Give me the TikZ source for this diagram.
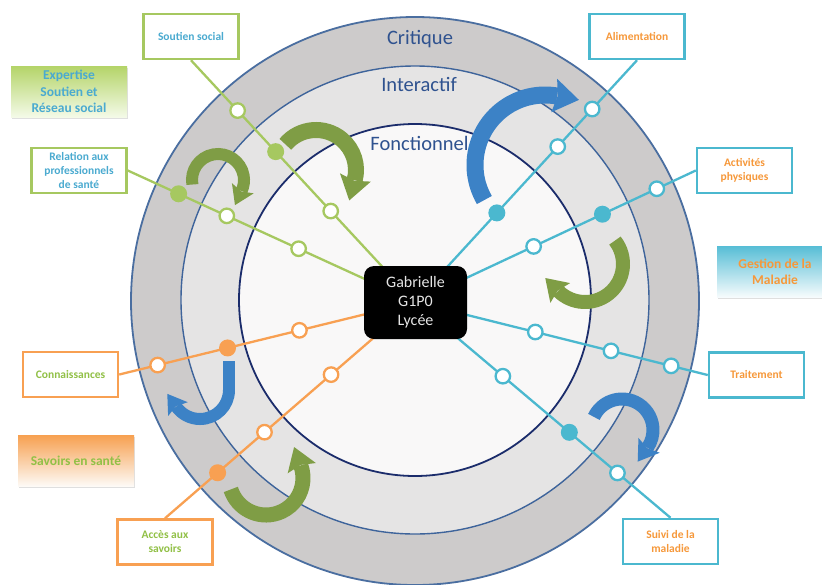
\documentclass[tikz,border=0pt]{standalone}
\usepackage{fontspec}
\setmainfont{Carlito}
\usetikzlibrary{calc,shadows}

\definecolor{ringO}{RGB}{205,203,203}
\definecolor{ringM}{RGB}{229,228,228}
\definecolor{ringI}{RGB}{249,248,248}
\definecolor{lineO}{RGB}{74,110,160}
\definecolor{lineM}{RGB}{62,100,155}
\definecolor{lineI}{RGB}{27,44,107}
\definecolor{lbl}{RGB}{47,82,143}
\definecolor{cgreen}{RGB}{166,200,96}
\definecolor{cteal}{RGB}{75,184,207}
\definecolor{corange}{RGB}{248,160,82}
\definecolor{tblue}{RGB}{74,170,208}
\definecolor{torange}{RGB}{246,152,58}
\definecolor{tgreen}{RGB}{145,192,70}
\definecolor{agreen}{RGB}{127,157,69}
\definecolor{ablue}{RGB}{60,130,198}

% #1 colour, #2 centre, #3 radius, #4 start angle, #5 end angle, #6 sense (+ or -), #7 band width
\newcommand\bentarrow[7]{%
  \draw[#1, line width=#7pt] ($(#2)+(#4:#3)$) arc[start angle=#4, end angle=#5, radius=#3];
  \fill[#1] ($(#2)+({#5}:{#3+#7*1.0})+({#5#690}:{-3})$)
     -- ($(#2)+({#5}:{#3})+({#5#690}:{#7*1.3})$)
     -- ($(#2)+({#5}:{#3-#7*1.0})+({#5#690}:{-3})$)
     -- ($(#2)+({#5}:{#3})+({#5#690}:{0.5})$) -- cycle;
}

\begin{document}
\begin{tikzpicture}[x=1pt,y=-1pt,
  ringlabel/.style={text=lbl, font=\fontsize{20.5}{24}\selectfont, anchor=base, inner sep=0pt},
  tbox/.style={draw, line width=2.5pt, fill=white, minimum width=95pt, minimum height=45pt,
     align=center, inner sep=2pt, font=\bfseries\fontsize{11.5}{14}\selectfont,
     drop shadow={opacity=0.12, shadow xshift=0.8pt, shadow yshift=-1.4pt}},
  legend/.style={minimum width=116pt, minimum height=51pt, align=center, inner sep=0pt,
     font=\bfseries\fontsize{13.5}{16.5}\selectfont,
     drop shadow={opacity=0.25, shadow xshift=0.8pt, shadow yshift=-1.6pt}},
  spoke/.style={line width=2.3pt},
  wdot/.style={circle, fill=white, line width=2.3pt, minimum size=14.5pt, inner sep=0pt},
  fdot/.style={circle, minimum size=17pt, inner sep=0pt},
  centerbox/.style={fill=black, rounded corners=10pt, minimum width=103pt, minimum height=73pt,
     text=white!90!black, align=center, inner sep=0pt, font=\fontsize{16}{19}\selectfont}]

\useasboundingbox (0,0) rectangle (822,584);
\fill[white] (0,0) rectangle (822,584);

% rings
\path[fill=ringO, draw=lineO, line width=1.8pt] (415,301) circle[radius=284];
\path[fill=ringM, draw=lineM, line width=1.4pt] (415,300) circle[radius=234];
\path[fill=ringI, draw=lineI, line width=1.8pt] (415,300) circle[radius=176];

\node[ringlabel] (lcrit) at (420,44) {Critique};
\node[ringlabel] (linter) at (419,91) {Interactif};
\node[ringlabel] (lfonc) at (419.5,150) {Fonctionnel};

% legend boxes
\node[legend, top color={rgb,255:red,180;green,212;blue,104}, bottom color={rgb,255:red,244;green,250;blue,232}, text=tblue] (leg1) at (69,91.5) {Expertise\\Soutien et\\Réseau social};
\node[legend, top color={rgb,255:red,88;green,190;blue,214}, bottom color={rgb,255:red,248;green,252;blue,253}, text=torange] (leg2) at (775,272) {Gestion de la\\Maladie};
\node[legend, top color={rgb,255:red,247;green,160;blue,80}, bottom color={rgb,255:red,253;green,250;blue,246}, text=tgreen] (leg3) at (76,460.5) {Savoirs en santé};

% text boxes
\node[tbox, draw=cgreen, text=tblue] (s1) at (191,36.5) {Soutien social};
\node[tbox, draw=cgreen, text=tblue] (s2) at (79,170.5) {Relation aux\\professionnels\\de santé};
\node[tbox, draw=cteal, text=torange] (s3) at (637,36.5) {Alimentation};
\node[tbox, draw=cteal, text=torange] (s4) at (744.5,170.5) {Activités\\physiques};
\node[tbox, draw=cteal, text=torange] (s5) at (756.5,375) {Traitement};
\node[tbox, draw=cteal, text=torange] (s6) at (670.5,541.5) {Suivi de la\\maladie};
\node[tbox, draw=corange, text=tgreen] (s7) at (70.5,374.5) {Connaissances};
\node[tbox, draw=corange, text=tgreen] (s8) at (165,542) {Accès aux\\savoirs};

% spokes
\coordinate (o) at (415,302);
\draw[spoke, cgreen] (o) -- (s1.south);
\draw[spoke, cgreen] (o) -- (s2.east);
\draw[spoke, cteal] (o) -- (s3.south);
\draw[spoke, cteal] (o) -- (s4.west);
\draw[spoke, cteal] (o) -- (s5.west);
\draw[spoke, cteal] (o) -- (s6.north);
\draw[spoke, corange] (o) -- (s7.east);
\draw[spoke, corange] (o) -- (s8.north);

% dots
\node[wdot, draw=cgreen] (d1a) at ($(o)!124pt!(s1.south)$) {};
\node[fdot, fill=cgreen] (d1b) at ($(o)!205pt!(s1.south)$) {};
\node[wdot, draw=cgreen] (d1c) at ($(o)!261pt!(s1.south)$) {};

\node[wdot, draw=cgreen] (d2a) at ($(o)!128pt!(s2.east)$) {};
\node[wdot, draw=cgreen] (d2b) at ($(o)!207pt!(s2.east)$) {};
\node[fdot, fill=cgreen] (d2c) at ($(o)!260pt!(s2.east)$) {};

\node[fdot, fill=cteal] (d3a) at ($(o)!121pt!(s3.south)$) {};
\node[wdot, draw=cteal] (d3b) at ($(o)!211pt!(s3.south)$) {};
\node[wdot, draw=cteal] (d3c) at ($(o)!262pt!(s3.south)$) {};

\node[wdot, draw=cteal] (d4a) at ($(o)!131pt!(s4.west)$) {};
\node[fdot, fill=cteal] (d4b) at ($(o)!207pt!(s4.west)$) {};
\node[wdot, draw=cteal] (d4c) at ($(o)!267pt!(s4.west)$) {};

\node[wdot, draw=cteal] (d5a) at ($(o)!124pt!(s5.west)$) {};
\node[wdot, draw=cteal] (d5b) at ($(o)!202pt!(s5.west)$) {};
\node[wdot, draw=cteal] (d5c) at ($(o)!264pt!(s5.west)$) {};

\node[wdot, draw=cteal] (d6a) at ($(o)!115pt!(s6.north)$) {};
\node[fdot, fill=cteal] (d6b) at ($(o)!202pt!(s6.north)$) {};
\node[wdot, draw=cteal] (d6c) at ($(o)!265pt!(s6.north)$) {};

\node[wdot, draw=corange] (d7a) at ($(o)!119pt!(s7.east)$) {};
\node[fdot, fill=corange] (d7b) at ($(o)!193pt!(s7.east)$) {};
\node[wdot, draw=corange] (d7c) at ($(o)!265pt!(s7.east)$) {};

\node[wdot, draw=corange] (d8a) at ($(o)!111pt!(s8.north)$) {};
\node[wdot, draw=corange] (d8b) at ($(o)!199pt!(s8.north)$) {};
\node[fdot, fill=corange] (d8c) at ($(o)!261pt!(s8.north)$) {};

% curved arrows
\bentarrow{agreen}{218,180}{26}{170}{385}{+}{12}
\bentarrow{agreen}{316,170}{40}{220}{375}{+}{16}
\bentarrow{ablue}{545,165}{70}{150}{280}{+}{17}
\bentarrow{agreen}{585,264}{38}{-38}{135}{+}{14}
\bentarrow{ablue}{622,430}{31}{205}{395}{+}{13}
\draw[ablue, line width=12pt] (229,361) -- (229,390.5);
\bentarrow{ablue}{200,390}{29}{0}{145}{+}{12}
\bentarrow{agreen}{266,478}{37}{162}{-20}{-}{15}

% centre
\node[centerbox] (g) at (415.5,302.5) {Gabrielle\\G1P0\\Lycée};
\end{tikzpicture}
\end{document}
